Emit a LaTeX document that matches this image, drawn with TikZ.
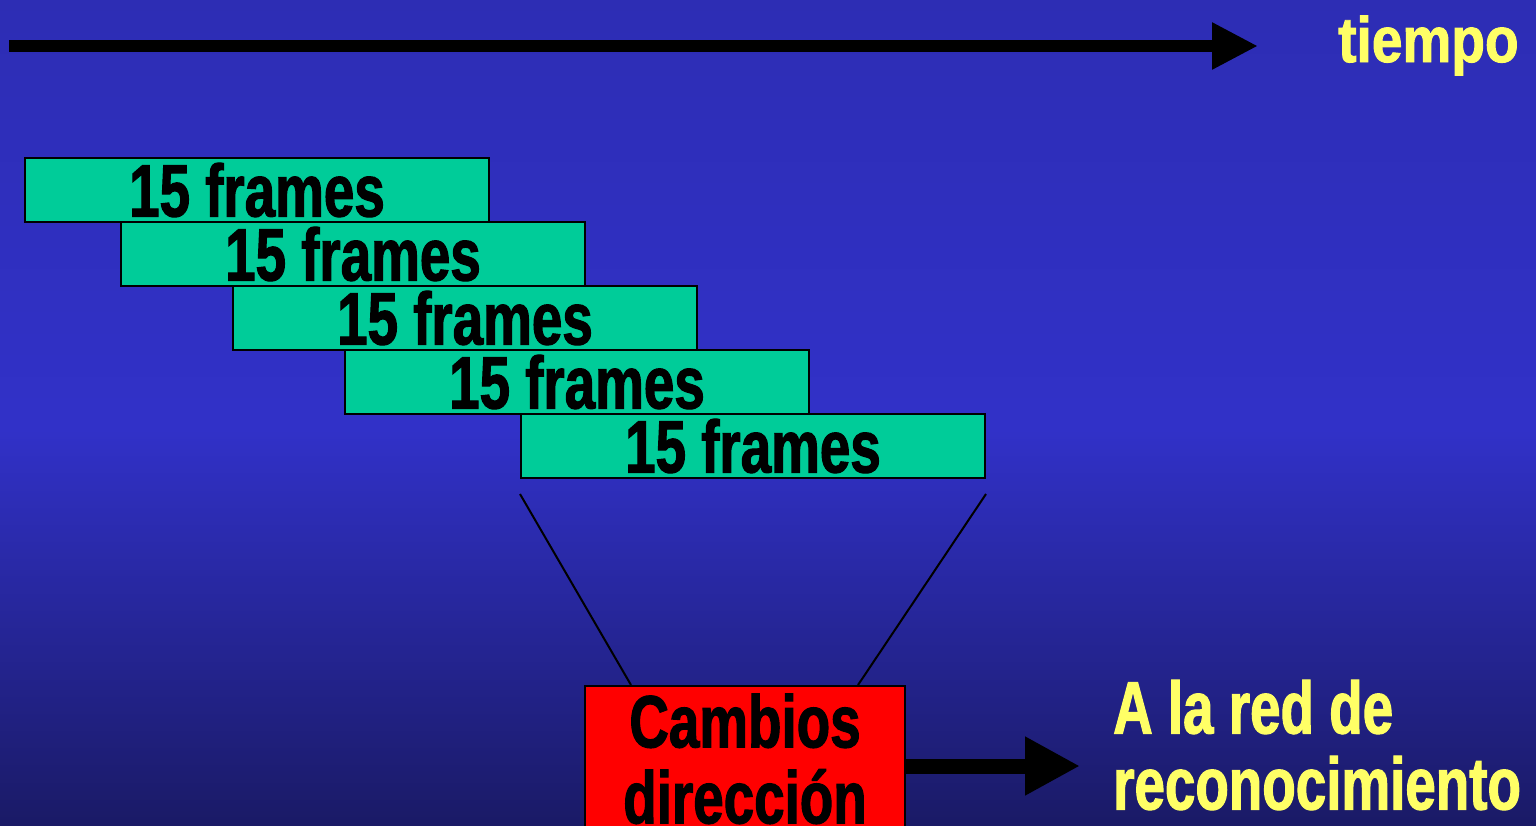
\documentclass[tikz,border=0pt]{standalone}
\usepackage{fontspec}
\newfontfamily\impactfont{Liberation Sans}[FakeStretch=0.74,FakeBold=1.5]
\newfontfamily\impactwide{Liberation Sans}[FakeStretch=0.86,FakeBold=1.5]
\usetikzlibrary{arrows.meta,calc,positioning}

\definecolor{bgtop}{RGB}{45,45,180}
\definecolor{bgmid}{RGB}{49,49,200}
\definecolor{bgbot}{RGB}{26,26,102}
\definecolor{framegreen}{RGB}{0,204,153}
\definecolor{labelyellow}{RGB}{255,255,102}

\tikzset{
  bigfont/.style={font=\impactfont\bfseries\fontsize{74}{76}\selectfont},
  framebox/.style={bigfont, draw=black, line width=2pt, fill=framegreen,
    minimum width=464pt, minimum height=64pt, inner sep=0pt},
  changebox/.style={bigfont, draw=black, line width=2pt, fill=red,
    minimum width=320pt, minimum height=160pt, inner sep=0pt, align=center,
    text depth=15pt},
  yellowlabel/.style={bigfont, text=labelyellow, inner sep=0pt},
  timearrow/.style={line width=12pt, -{Triangle[length=46pt,width=44pt]}},
  outarrow/.style={line width=15pt, -{Triangle[length=55pt,width=55pt]}},
  funnel/.style={line width=2pt}
}

\begin{document}
\begin{tikzpicture}[x=1pt,y=-1pt]
\useasboundingbox (0,0) rectangle (1536,825);
\clip (0,0) rectangle (1536,825);

% background
\shade[top color=bgtop, bottom color=bgmid] (0,0) rectangle (1536,430);
\shade[top color=bgmid, bottom color=bgbot] (0,430) rectangle (1536,825);

% time axis
\coordinate (tstart) at (9,46);
\coordinate (tend) at (1258,46);
\draw[timearrow] (tstart) -- (tend);
\node[yellowlabel, font=\impactwide\bfseries\fontsize{64}{66}\selectfont,
  anchor=base west] (tiempo) at (1338,62) {tiempo};

% windows of frames
\foreach \x/\y [count=\i] in {257/190, 353/254, 465/318, 577/382, 753/446}
  \node[framebox] (f\i) at (\x,\y) {15 frames};

% direction changes
\node[changebox] (cambios) at (745,766) {Cambios\\dirección};

\draw[funnel] ($(f5.south west)+(0,15)$) -- ($(cambios.north west)+(47,0)$);
\draw[funnel] ($(f5.south east)+(0,15)$) -- ($(cambios.north east)+(-48,0)$);

% output
\node[yellowlabel, align=left, anchor=west] (netlbl) at (1113,745) {A la red de\\reconocimiento};
\draw[outarrow, shorten >=33pt] (cambios.east) -- (netlbl.west |- cambios.east);

\end{tikzpicture}
\end{document}
